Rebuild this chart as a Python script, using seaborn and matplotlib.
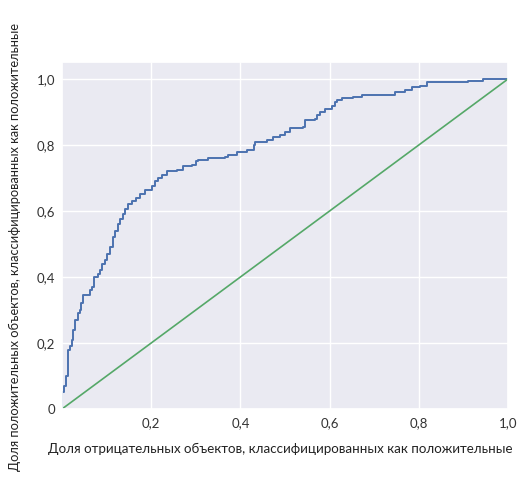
import matplotlib
matplotlib.use("Agg")
import matplotlib.pyplot as plt
import seaborn as sns
import pandas as pd

# ROC curve: at each fpr the tpr jumps to the given level
fpr = [0.0, 0.0, 0.005, 0.008, 0.013, 0.018, 0.022, 0.025, 0.029, 0.035, 0.040,
       0.043, 0.048, 0.063, 0.067, 0.072, 0.080, 0.085, 0.090, 0.096, 0.102,
       0.108, 0.114, 0.119, 0.125, 0.130, 0.136, 0.141, 0.148, 0.157, 0.165,
       0.175, 0.186, 0.201, 0.209, 0.215, 0.224, 0.235, 0.257, 0.272, 0.291,
       0.300, 0.306, 0.328, 0.365, 0.373, 0.392, 0.414, 0.430, 0.433, 0.459,
       0.474, 0.489, 0.500, 0.511, 0.541, 0.545, 0.567, 0.572, 0.578, 0.590,
       0.605, 0.612, 0.616, 0.627, 0.653, 0.672, 0.743, 0.747, 0.769, 0.784,
       0.803, 0.818, 0.911, 0.945, 1.0]
tpr = [0.0, 0.05, 0.07, 0.10, 0.18, 0.19, 0.21, 0.24, 0.27, 0.29, 0.30,
       0.32, 0.345, 0.36, 0.37, 0.40, 0.41, 0.42, 0.44, 0.45, 0.47,
       0.49, 0.52, 0.54, 0.56, 0.575, 0.59, 0.605, 0.62, 0.63, 0.64,
       0.65, 0.665, 0.675, 0.69, 0.70, 0.71, 0.72, 0.725, 0.737, 0.74,
       0.75, 0.755, 0.76, 0.763, 0.77, 0.78, 0.785, 0.80, 0.81, 0.815,
       0.823, 0.83, 0.84, 0.85, 0.855, 0.876, 0.878, 0.89, 0.90, 0.91,
       0.919, 0.93, 0.936, 0.941, 0.944, 0.951, 0.953, 0.96, 0.967, 0.975,
       0.979, 0.99, 0.995, 1.0, 1.0]

diag_x = [0.0, 1.0]
diag_y = [0.0, 1.0]

xticks = [0.2, 0.4, 0.6, 0.8, 1.0]
xtick_labels = ["0,2", "0,4", "0,6", "0,8", "1,0"]
yticks = [0.0, 0.2, 0.4, 0.6, 0.8, 1.0]
ytick_labels = ["0", "0,2", "0,4", "0,6", "0,8", "1,0"]

xlabel = "Доля отрицательных объектов, классифицированных как положительные"
ylabel = "Доля положительных объектов, классифицированных как положительные"

sns.set_theme(style="darkgrid")
plt.rcParams["font.family"] = ["Lato", "DejaVu Sans"]

fig = plt.figure(figsize=(5.21, 4.88), dpi=100)
ax = fig.add_axes([62 / 521, 1 - 409 / 488, 446 / 521, 347 / 488])

roc = pd.DataFrame({"fpr": fpr, "tpr": tpr})
diag = pd.DataFrame({"x": diag_x, "y": diag_y})

sns.lineplot(data=roc, x="fpr", y="tpr", ax=ax, sort=False, estimator=None,
             color="#4c72b0", linewidth=1.4, drawstyle="steps-post")
sns.lineplot(data=diag, x="x", y="y", ax=ax, sort=False, estimator=None,
             color="#55a868", linewidth=1.2)

ax.set_xlim(0, 1.0)
ax.set_ylim(0, 1.0515)
ax.set_xticks(xticks)
ax.set_xticklabels(xtick_labels, fontsize=9.5, color="#333333")
ax.set_yticks(yticks)
ax.set_yticklabels(ytick_labels, fontsize=9.5, color="#333333")
ax.tick_params(axis="x", length=0, pad=6)
ax.tick_params(axis="y", length=0, pad=5)

ax.set_xlabel(xlabel, fontsize=9.6, color="#222222")
ax.set_ylabel(ylabel, fontsize=9.3, color="#222222")
ax.xaxis.set_label_coords(0.49, -0.097)
ax.yaxis.set_label_coords(-0.093, 0.468)

fig.savefig("out.png", dpi=100)
